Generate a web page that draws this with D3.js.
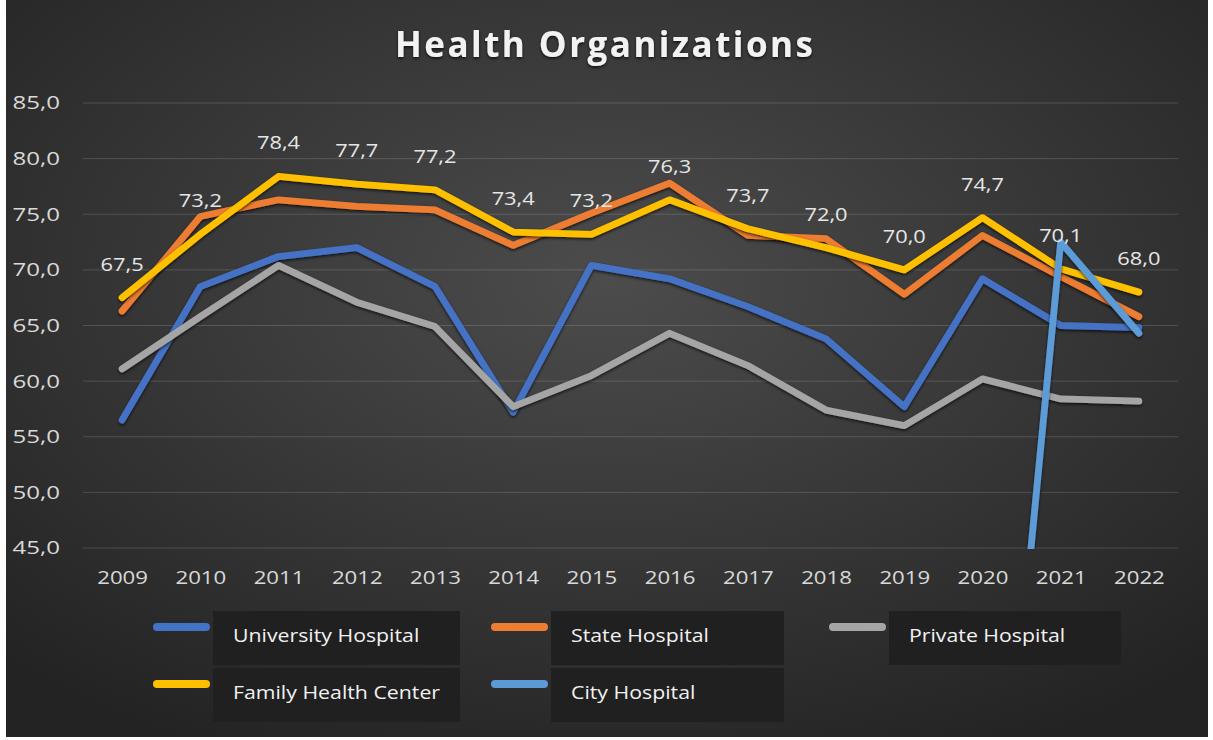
<!DOCTYPE html>
<html>
<head>
<meta charset="utf-8">
<script src="https://cdn.jsdelivr.net/npm/d3@7"></script>
<style>
  html, body { margin: 0; padding: 0; background: #ffffff; }
  svg { display: block; }
  text { font-family: "Open Sans", "Noto Sans", sans-serif; }
</style>
</head>
<body>
<svg id="chart" width="1213" height="740"></svg>
<script>
// ---- data ----
const years = ["2009","2010","2011","2012","2013","2014","2015","2016","2017","2018","2019","2020","2021","2022"];
const universityHospital = [56.5, 68.5, 71.2, 72.0, 68.5, 57.2, 70.4, 69.2, 66.7, 63.8, 57.7, 69.2, 65.0, 64.8];
const stateHospital      = [66.3, 74.8, 76.3, 75.7, 75.4, 72.2, 75.1, 77.8, 73.1, 72.8, 67.8, 73.1, 69.4, 65.8];
const privateHospital    = [61.1, 65.8, 70.4, 67.1, 64.9, 57.7, 60.5, 64.3, 61.4, 57.4, 56.0, 60.2, 58.4, 58.2];
const familyHealthCenter = [67.5, 73.2, 78.4, 77.7, 77.2, 73.4, 73.2, 76.3, 73.7, 72.0, 70.0, 74.7, 70.1, 68.0];
const cityHospital       = [null, null, null, null, null, null, null, null, null, null, null, 0, 72.5, 64.3];
const seriesNames = ["University Hospital", "State Hospital", "Private Hospital", "Family Health Center", "City Hospital"];
const seriesColors = ["#4472c4", "#ed7d31", "#a5a5a5", "#ffc000", "#5b9bd5"];
const yTickValues = [45, 50, 55, 60, 65, 70, 75, 80, 85];
const titleText = "Health Organizations";

const seriesValues = [universityHospital, stateHospital, privateHospital, familyHealthCenter, cityHospital];
const series = seriesNames.map((name, i) => ({ name, color: seriesColors[i], values: seriesValues[i] }));

// ---- layout ----
const W = 1213, H = 740;
const plot = { left: 83, right: 1178, top: 103, bottom: 548 };
const numFmt = d3.formatLocale({ decimal: ",", thousands: ".", grouping: [3], currency: ["", ""] }).format(".1f");

// widen text horizontally, keeping its anchor
function widen(sel, k) {
  sel.each(function () {
    const w = this.getComputedTextLength();
    d3.select(this).attr("textLength", w * k).attr("lengthAdjust", "spacingAndGlyphs");
  });
}

const svg = d3.select("#chart");
const defs = svg.append("defs");

const bg = defs.append("radialGradient").attr("id", "bgGrad")
  .attr("cx", "50%").attr("cy", "38%").attr("r", "72%");
bg.append("stop").attr("offset", "0%").attr("stop-color", "#4c4c4c");
bg.append("stop").attr("offset", "100%").attr("stop-color", "#232323");

const shadow = defs.append("filter").attr("id", "shadow")
  .attr("filterUnits", "userSpaceOnUse").attr("x", 0).attr("y", 0).attr("width", W).attr("height", H);
shadow.append("feDropShadow").attr("dx", 0).attr("dy", 1.5).attr("stdDeviation", 1.6)
  .attr("flood-color", "#000").attr("flood-opacity", 0.75);

defs.append("clipPath").attr("id", "plotClip").append("rect")
  .attr("x", 0).attr("y", 0).attr("width", W).attr("height", plot.bottom + 1);

// chart background
svg.append("rect").attr("x", 6).attr("y", 0).attr("width", 1202).attr("height", 737)
  .attr("fill", "url(#bgGrad)");

// title
svg.append("text")
  .attr("x", 604).attr("y", 57)
  .attr("text-anchor", "middle")
  .attr("font-size", 35).attr("font-weight", 700)
  .attr("fill", "#f2f2f2")
  .attr("textLength", 418).attr("lengthAdjust", "spacing")
  .attr("filter", "url(#shadow)")
  .text(titleText);

// scales
const x = d3.scalePoint().domain(years).range([plot.left, plot.right]).padding(0.5);
const y = d3.scaleLinear().domain([45, 85]).range([plot.bottom, plot.top]);

// gridlines
svg.append("g").selectAll("line").data(yTickValues).join("line")
  .attr("x1", plot.left).attr("x2", plot.right)
  .attr("y1", d => y(d)).attr("y2", d => y(d))
  .attr("stroke", "rgba(255,255,255,0.15)").attr("stroke-width", 1);

// axes
const yAxis = svg.append("g").attr("transform", `translate(${plot.left},0)`)
  .call(d3.axisLeft(y).tickValues(yTickValues).tickFormat(numFmt).tickSize(0).tickPadding(23));
const xAxis = svg.append("g").attr("transform", `translate(0,${plot.bottom})`)
  .call(d3.axisBottom(x).tickSize(0).tickPadding(23));
[yAxis, xAxis].forEach(a => {
  a.select(".domain").remove();
  a.selectAll("text").attr("font-size", 18.5).attr("fill", "#d9d9d9")
    .attr("font-family", "\"Open Sans\", \"Noto Sans\", sans-serif");
});
widen(yAxis.selectAll("text"), 1.3);
widen(xAxis.selectAll("text"), 1.2);

// series lines
const line = d3.line()
  .defined(d => d != null)
  .x((d, i) => x(years[i]))
  .y(d => y(d));

svg.append("g").attr("clip-path", "url(#plotClip)")
  .selectAll("path").data(series).join("path")
  .attr("d", s => line(s.values))
  .attr("fill", "none")
  .attr("stroke", s => s.color)
  .attr("stroke-width", 6.8)
  .attr("stroke-linejoin", "round")
  .attr("stroke-linecap", "round")
  .attr("filter", "url(#shadow)");

// value labels on Family Health Center
const valueLabels = svg.append("g").selectAll("text").data(familyHealthCenter).join("text")
  .attr("x", (d, i) => x(years[i]))
  .attr("y", d => y(d) - 27)
  .attr("text-anchor", "middle")
  .attr("font-size", 18.5)
  .attr("fill", "#e6e6e6")
  .text(d => numFmt(d));
widen(valueLabels, 1.18);

// legend
const legendCols = [153, 491, 829];
const legendRows = [611, 668];
const boxWidths = [247, 233, 232];
const legend = svg.append("g");
series.forEach((s, i) => {
  const col = i % 3, row = Math.floor(i / 3);
  const lx = legendCols[col], ly = legendRows[row];
  const g = legend.append("g");
  g.append("line")
    .attr("x1", lx + 4).attr("x2", lx + 53)
    .attr("y1", ly + 16).attr("y2", ly + 16)
    .attr("stroke", s.color).attr("stroke-width", 8).attr("stroke-linecap", "round");
  g.append("rect")
    .attr("x", lx + 60).attr("y", ly).attr("width", boxWidths[col]).attr("height", 54)
    .attr("fill", "#202020");
  g.append("text")
    .attr("x", lx + 80).attr("y", ly + 31)
    .attr("font-size", 18.5).attr("fill", "#f2f2f2")
    .text(s.name);
});
widen(legend.selectAll("text"), 1.15);
</script>
</body>
</html>
